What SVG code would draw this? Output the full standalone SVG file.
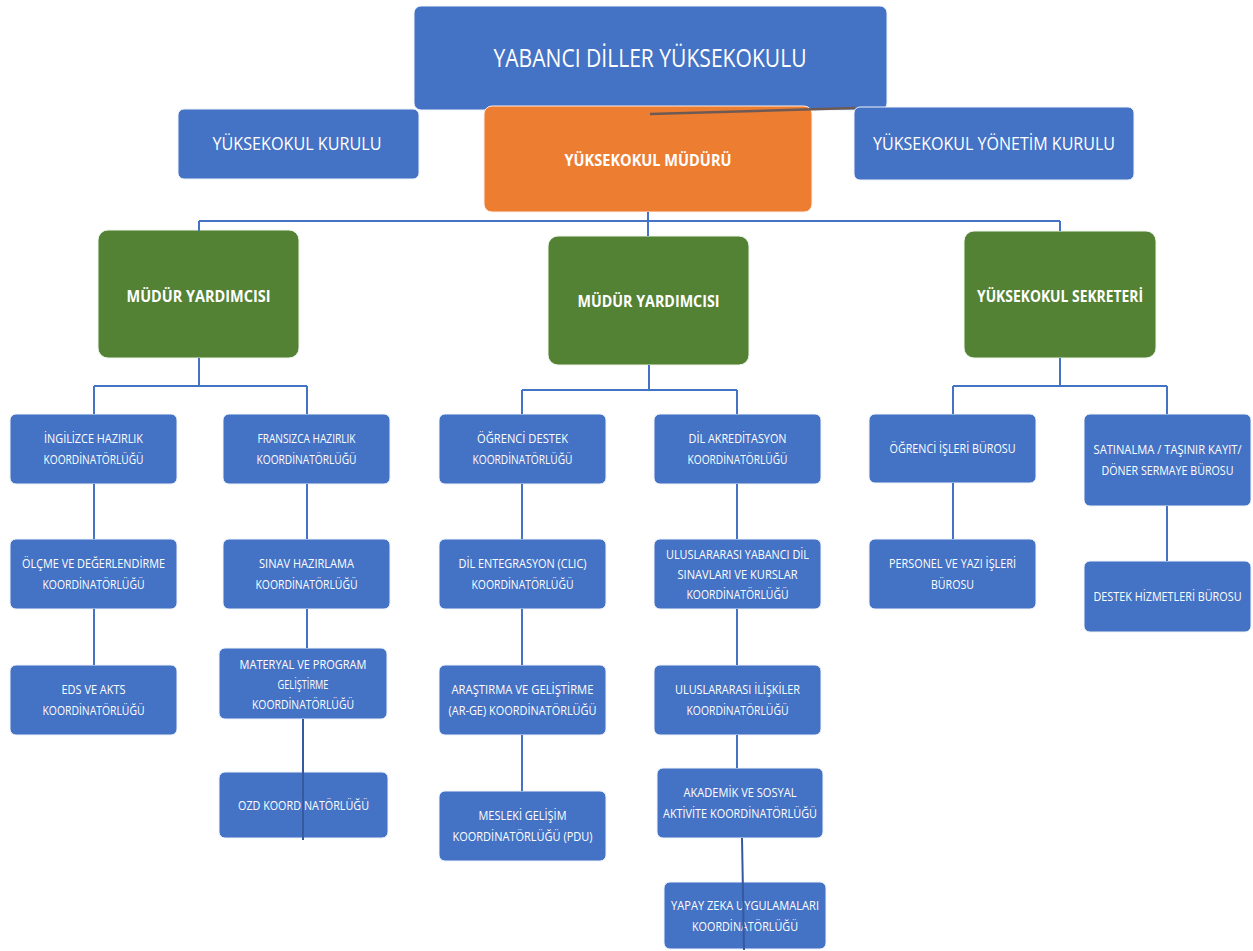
<svg xmlns="http://www.w3.org/2000/svg" width="1253" height="951" viewBox="0 0 1253 951">
<style>
.bg{fill:#ffffff}
.blue{fill:#4472c4;stroke:#eef2fa;stroke-width:1}
.orange{fill:#ed7d31;stroke:#fdf0e6;stroke-width:1}
.green{fill:#548235;stroke:#eef5ea;stroke-width:1}
.t{fill:#ffffff;font-family:"Open Sans","Liberation Sans",sans-serif;font-size:13.5px;text-anchor:middle}
.h{font-size:18px}
.ti{font-size:25px}
.b{font-weight:bold;font-size:15.5px}
.g{font-size:16.5px}
.ln{fill:none;stroke:#4472c4;stroke-width:2}
.ov{fill:none;stroke:#35599c;stroke-width:2}
</style>
<rect class="bg" x="0" y="0" width="1253" height="951"/>
<g id="n-title"><rect class="blue" x="414" y="6" width="473" height="104" rx="7"/><text class="t ti" x="650" y="67" textLength="313" lengthAdjust="spacingAndGlyphs">YABANCI DİLLER YÜKSEKOKULU</text></g>
<g id="n-kurulu"><rect class="blue" x="178" y="109" width="241" height="70" rx="6"/><text class="t h" x="297" y="150" textLength="169" lengthAdjust="spacingAndGlyphs">YÜKSEKOKUL KURULU</text></g>
<g id="n-mudur"><rect class="orange" x="484" y="106" width="328" height="106" rx="8"/><text class="t b" x="648" y="166" textLength="167" lengthAdjust="spacingAndGlyphs">YÜKSEKOKUL MÜDÜRÜ</text></g>
<g id="n-yonetim"><rect class="blue" x="854" y="107" width="280" height="73" rx="6"/><text class="t h" x="994" y="150" textLength="242" lengthAdjust="spacingAndGlyphs">YÜKSEKOKUL YÖNETİM KURULU</text></g>
<g id="n-my1"><rect class="green" x="98" y="230" width="201" height="128" rx="10"/><text class="t b g" x="198.5" y="302" textLength="144" lengthAdjust="spacingAndGlyphs">MÜDÜR YARDIMCISI</text></g>
<g id="n-my2"><rect class="green" x="548" y="236" width="201" height="129" rx="10"/><text class="t b g" x="648.5" y="307" textLength="142" lengthAdjust="spacingAndGlyphs">MÜDÜR YARDIMCISI</text></g>
<g id="n-sek"><rect class="green" x="964" y="231" width="192" height="127" rx="10"/><text class="t b g" x="1060" y="302" textLength="166" lengthAdjust="spacingAndGlyphs">YÜKSEKOKUL SEKRETERİ</text></g>
<g id="n-ing"><rect class="blue" x="10" y="414" width="167" height="70" rx="6"/><text class="t" transform="translate(93.5,443) scale(0.8,1)" textLength="123.75" lengthAdjust="spacingAndGlyphs">İNGİLİZCE HAZIRLIK</text><text class="t" transform="translate(93.5,464) scale(0.8,1)" textLength="125" lengthAdjust="spacingAndGlyphs">KOORDİNATÖRLÜĞÜ</text></g>
<g id="n-fra"><rect class="blue" x="223" y="414" width="167" height="70" rx="6"/><text class="t" transform="translate(306.5,443) scale(0.8,1)" textLength="122.5" lengthAdjust="spacingAndGlyphs">FRANSIZCA HAZIRLIK</text><text class="t" transform="translate(306.5,464) scale(0.8,1)" textLength="125" lengthAdjust="spacingAndGlyphs">KOORDİNATÖRLÜĞÜ</text></g>
<g id="n-ogd"><rect class="blue" x="439" y="414" width="167" height="70" rx="6"/><text class="t" transform="translate(522.5,443) scale(0.8,1)" textLength="113.75" lengthAdjust="spacingAndGlyphs">ÖĞRENCİ DESTEK</text><text class="t" transform="translate(522.5,464) scale(0.8,1)" textLength="125" lengthAdjust="spacingAndGlyphs">KOORDİNATÖRLÜĞÜ</text></g>
<g id="n-dak"><rect class="blue" x="654" y="414" width="167" height="70" rx="6"/><text class="t" transform="translate(737.5,443) scale(0.8,1)" textLength="122.5" lengthAdjust="spacingAndGlyphs">DİL AKREDİTASYON</text><text class="t" transform="translate(737.5,464) scale(0.8,1)" textLength="125" lengthAdjust="spacingAndGlyphs">KOORDİNATÖRLÜĞÜ</text></g>
<g id="n-oib"><rect class="blue" x="869" y="414" width="167" height="69" rx="6"/><text class="t" transform="translate(952.5,453) scale(0.8,1)" textLength="157.5" lengthAdjust="spacingAndGlyphs">ÖĞRENCİ İŞLERİ BÜROSU</text></g>
<g id="n-sat"><rect class="blue" x="1084" y="414" width="167" height="92" rx="6"/><text class="t" transform="translate(1167.5,454) scale(0.8,1)" textLength="185" lengthAdjust="spacingAndGlyphs">SATINALMA / TAŞINIR KAYIT/</text><text class="t" transform="translate(1167.5,475) scale(0.8,1)" textLength="165" lengthAdjust="spacingAndGlyphs">DÖNER SERMAYE BÜROSU</text></g>
<g id="n-olc"><rect class="blue" x="10" y="539" width="167" height="70" rx="6"/><text class="t" transform="translate(93.5,568) scale(0.8,1)" textLength="178.75" lengthAdjust="spacingAndGlyphs">ÖLÇME VE DEĞERLENDİRME</text><text class="t" transform="translate(93.5,589) scale(0.8,1)" textLength="127.5" lengthAdjust="spacingAndGlyphs">KOORDİNATÖRLÜĞÜ</text></g>
<g id="n-sin"><rect class="blue" x="223" y="539" width="167" height="70" rx="6"/><text class="t" transform="translate(306.5,568) scale(0.8,1)" textLength="118.75" lengthAdjust="spacingAndGlyphs">SINAV HAZIRLAMA</text><text class="t" transform="translate(306.5,589) scale(0.8,1)" textLength="127.5" lengthAdjust="spacingAndGlyphs">KOORDİNATÖRLÜĞÜ</text></g>
<g id="n-den"><rect class="blue" x="439" y="539" width="167" height="70" rx="6"/><text class="t" transform="translate(522.5,568) scale(0.8,1)" textLength="160" lengthAdjust="spacingAndGlyphs">DİL ENTEGRASYON (CLIC)</text><text class="t" transform="translate(522.5,589) scale(0.8,1)" textLength="127.5" lengthAdjust="spacingAndGlyphs">KOORDİNATÖRLÜĞÜ</text></g>
<g id="n-uyd"><rect class="blue" x="654" y="539" width="167" height="70" rx="6"/><text class="t" transform="translate(737.5,559) scale(0.8,1)" textLength="178.75" lengthAdjust="spacingAndGlyphs">ULUSLARARASI YABANCI DİL</text><text class="t" transform="translate(737.5,579) scale(0.8,1)" textLength="150" lengthAdjust="spacingAndGlyphs">SINAVLARI VE KURSLAR</text><text class="t" transform="translate(737.5,599) scale(0.8,1)" textLength="127.5" lengthAdjust="spacingAndGlyphs">KOORDİNATÖRLÜĞÜ</text></g>
<g id="n-per"><rect class="blue" x="869" y="539" width="167" height="70" rx="6"/><text class="t" transform="translate(952.5,568) scale(0.8,1)" textLength="158.75" lengthAdjust="spacingAndGlyphs">PERSONEL VE YAZI İŞLERİ</text><text class="t" transform="translate(952.5,589) scale(0.8,1)" textLength="53.75" lengthAdjust="spacingAndGlyphs">BÜROSU</text></g>
<g id="n-des"><rect class="blue" x="1084" y="561" width="167" height="71" rx="6"/><text class="t" transform="translate(1167.5,601) scale(0.8,1)" textLength="185" lengthAdjust="spacingAndGlyphs">DESTEK HİZMETLERİ BÜROSU</text></g>
<g id="n-eds"><rect class="blue" x="10" y="665" width="167" height="70" rx="6"/><text class="t" transform="translate(93.5,694) scale(0.8,1)" textLength="80" lengthAdjust="spacingAndGlyphs">EDS VE AKTS</text><text class="t" transform="translate(93.5,715) scale(0.8,1)" textLength="127.5" lengthAdjust="spacingAndGlyphs">KOORDİNATÖRLÜĞÜ</text></g>
<g id="n-mat"><rect class="blue" x="219" y="648" width="168" height="71" rx="6"/><text class="t" transform="translate(303,669) scale(0.8,1)" textLength="158.75" lengthAdjust="spacingAndGlyphs">MATERYAL VE PROGRAM</text><text class="t" transform="translate(303,689) scale(0.8,1)" textLength="63.75" lengthAdjust="spacingAndGlyphs">GELİŞTİRME</text><text class="t" transform="translate(303,709) scale(0.8,1)" textLength="127.5" lengthAdjust="spacingAndGlyphs">KOORDİNATÖRLÜĞÜ</text></g>
<g id="n-arg"><rect class="blue" x="439" y="665" width="167" height="70" rx="6"/><text class="t" transform="translate(522.5,694) scale(0.8,1)" textLength="177.5" lengthAdjust="spacingAndGlyphs">ARAŞTIRMA VE GELİŞTİRME</text><text class="t" transform="translate(522.5,715) scale(0.8,1)" textLength="185" lengthAdjust="spacingAndGlyphs">(AR-GE) KOORDİNATÖRLÜĞÜ</text></g>
<g id="n-uil"><rect class="blue" x="654" y="665" width="167" height="70" rx="6"/><text class="t" transform="translate(737.5,694) scale(0.8,1)" textLength="156.25" lengthAdjust="spacingAndGlyphs">ULUSLARARASI İLİŞKİLER</text><text class="t" transform="translate(737.5,715) scale(0.8,1)" textLength="127.5" lengthAdjust="spacingAndGlyphs">KOORDİNATÖRLÜĞÜ</text></g>
<g id="n-ozd"><rect class="blue" x="219" y="772" width="169" height="66" rx="6"/><text class="t" transform="translate(303.5,810) scale(0.8,1)" textLength="163.75" lengthAdjust="spacingAndGlyphs">OZD KOORDİNATÖRLÜĞÜ</text></g>
<g id="n-mes"><rect class="blue" x="439" y="791" width="167" height="70" rx="6"/><text class="t" transform="translate(522.5,820) scale(0.8,1)" textLength="110" lengthAdjust="spacingAndGlyphs">MESLEKİ GELİŞİM</text><text class="t" transform="translate(522.5,841) scale(0.8,1)" textLength="175" lengthAdjust="spacingAndGlyphs">KOORDİNATÖRLÜĞÜ (PDU)</text></g>
<g id="n-aka"><rect class="blue" x="657" y="768" width="166" height="70" rx="6"/><text class="t" transform="translate(740,797) scale(0.8,1)" textLength="141.25" lengthAdjust="spacingAndGlyphs">AKADEMİK VE SOSYAL</text><text class="t" transform="translate(740,818) scale(0.8,1)" textLength="192.5" lengthAdjust="spacingAndGlyphs">AKTİVİTE KOORDİNATÖRLÜĞÜ</text></g>
<g id="n-yap"><rect class="blue" x="664" y="882" width="162" height="67" rx="6"/><text class="t" transform="translate(745,910) scale(0.8,1)" textLength="185" lengthAdjust="spacingAndGlyphs">YAPAY ZEKA UYGULAMALARI</text><text class="t" transform="translate(745,931) scale(0.8,1)" textLength="132.5" lengthAdjust="spacingAndGlyphs">KOORDİNATÖRLÜĞÜ</text></g>
<g id="connectors">
<path class="ln" d="M648 212 V236 M199 221 H1060 M199 221 V231 M1060 221 V231"/>
<path class="ln" d="M199 358 V386 M94 386 H307 M94 386 V414 M307 386 V414"/>
<path class="ln" d="M649 365 V390 M522 390 H737 M522 390 V414 M737 390 V414"/>
<path class="ln" d="M1060 358 V386 M953 386 H1167 M953 386 V414 M1167 386 V414"/>
<path class="ln" d="M94 484 V539 M94 609 V665"/>
<path class="ln" d="M307 484 V539 M307 609 V648"/>
<path class="ln" d="M522 484 V539 M522 609 V665 M522 735 V791"/>
<path class="ln" d="M737 484 V539 M737 609 V665 M737 735 V768"/>
<path class="ln" d="M953 483 V539 M1167 506 V561"/>
<path class="ov" d="M303 719 V840"/>
<path class="ov" d="M742 838 L744 950"/>
<path fill="none" stroke="#6e5a55" stroke-width="2.5" d="M650 114 L855 108"/>
</g>
</svg>
